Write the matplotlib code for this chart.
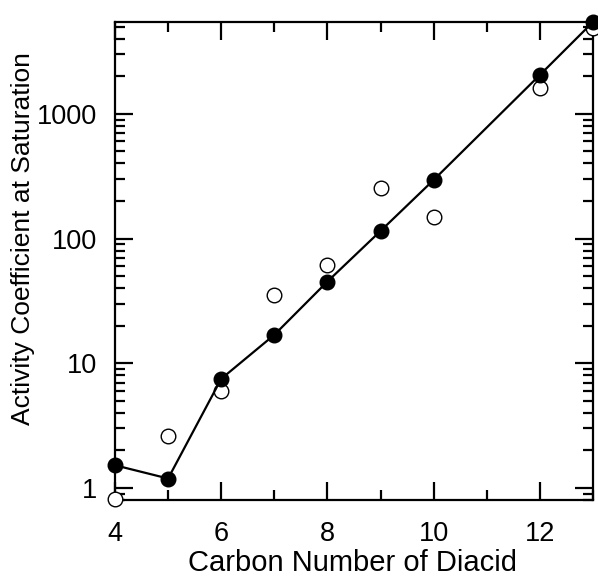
import matplotlib
matplotlib.use("Agg")
import matplotlib.pyplot as plt
from matplotlib.ticker import FixedLocator, LogLocator, NullFormatter, FuncFormatter

plt.rcParams['font.family'] = ['Liberation Sans', 'DejaVu Sans']

# carbon number of the diacid
carbon = [4, 5, 6, 7, 8, 9, 10, 12, 13]
# filled circles (joined by the line)
gamma_calc = [1.52, 1.19, 7.5, 16.9, 45.2, 115, 295, 2050, 5450]
# open circles
gamma_obs = [0.81, 2.62, 5.94, 35.4, 61.6, 253, 150, 1600, 4850]

fig = plt.figure(figsize=(5.98, 5.76), dpi=100)
ax = fig.add_axes([0.1923, 0.1319, 0.7993, 0.8299])

ax.plot(carbon, gamma_obs, 'o', ms=10.5, mfc='white', mec='black', mew=1.0,
        clip_on=False, zorder=3)
ax.plot(carbon, gamma_calc, '-o', color='black', lw=1.6, ms=10.5,
        clip_on=False, zorder=4)

ax.set_yscale('log')
ax.set_xlim(4, 13)
ax.set_ylim(0.8, 5450)

ax.xaxis.set_major_locator(FixedLocator([4, 6, 8, 10, 12]))
ax.xaxis.set_minor_locator(FixedLocator([5, 7, 9, 11, 13]))
ax.yaxis.set_major_locator(LogLocator(base=10))
ax.yaxis.set_minor_locator(LogLocator(base=10, subs=range(2, 10)))
ax.yaxis.set_major_formatter(FuncFormatter(lambda v, p: '%g' % v))
ax.yaxis.set_minor_formatter(NullFormatter())

ax.tick_params(which='both', direction='in', top=True, right=True,
               width=1.6, labelsize=19.5)
ax.tick_params(which='major', length=13)
ax.tick_params(which='minor', length=7)
ax.tick_params(axis='x', which='major', pad=15)
ax.tick_params(axis='y', which='major', pad=13)
for s in ax.spines.values():
    s.set_linewidth(1.6)

ax.set_xlabel('Carbon Number of Diacid', fontsize=21)
ax.set_ylabel('Activity Coefficient at Saturation', fontsize=19)
ax.xaxis.set_label_coords(0.497, -0.103)
ax.yaxis.set_label_coords(-0.167, 0.547)

fig.savefig('out.png', dpi=100)
